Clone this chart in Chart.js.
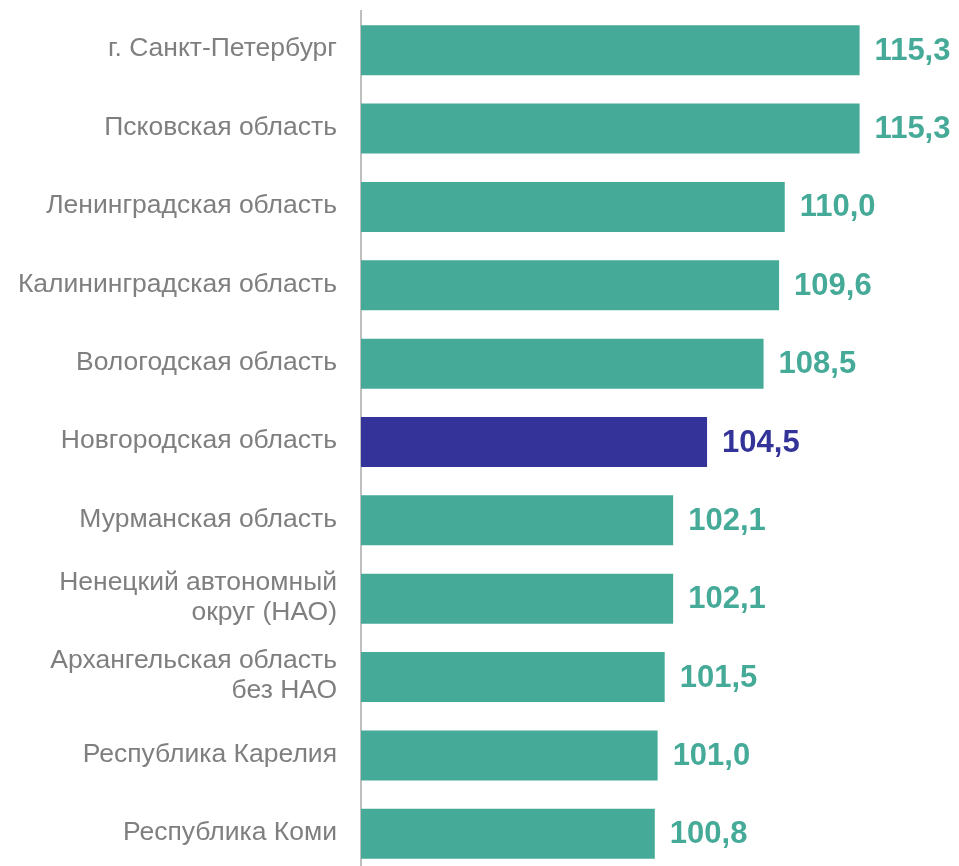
<!DOCTYPE html>
<html>
<head>
<meta charset="utf-8">
<script src="https://cdn.jsdelivr.net/npm/chart.js@4"></script>
<style>
    html, body { margin: 0; padding: 0; background: #fff; overflow: hidden; }
    #wrap { width: 959px; height: 866px; overflow: hidden; }
</style>
</head>
<body>
<div id="wrap"><canvas id="barChart" width="959" height="880"></canvas></div>
<script>
// регионы (подписи по оси)
const regions = [
    'г. Санкт-Петербург',
    'Псковская область',
    'Ленинградская область',
    'Калининградская область',
    'Вологодская область',
    'Новгородская область',
    'Мурманская область',
    ['Ненецкий автономный', 'округ (НАО)'],
    ['Архангельская область', 'без НАО'],
    'Республика Карелия',
    'Республика Коми'
];
const values = [115.3, 115.3, 110.0, 109.6, 108.5, 104.5, 102.1, 102.1, 101.5, 101.0, 100.8];
const highlightRegion = 'Новгородская область';

const teal = '#46AA98';
const navy = '#333399';
const fontFamily = '"Liberation Sans", Arial, sans-serif';

const barColors = regions.map(r => r === highlightRegion ? navy : teal);

// подписи значений справа от столбцов
const valueLabels = {
    id: 'valueLabels',
    afterDatasetsDraw(chart) {
        const ctx = chart.ctx;
        const meta = chart.getDatasetMeta(0);
        ctx.save();
        ctx.font = 'bold 31px ' + fontFamily;
        ctx.textAlign = 'left';
        ctx.textBaseline = 'middle';
        meta.data.forEach((bar, i) => {
            ctx.fillStyle = barColors[i];
            ctx.fillText(values[i].toFixed(1).replace('.', ','), bar.x + 15, bar.y + 1);
        });
        ctx.restore();
    }
};

const ctx = document.getElementById('barChart').getContext('2d');
new Chart(ctx, {
    type: 'bar',
    data: {
        labels: regions,
        datasets: [{
            data: values,
            backgroundColor: barColors,
            borderWidth: 0,
            categoryPercentage: 1,
            barPercentage: 0.638
        }]
    },
    options: {
        indexAxis: 'y',
        responsive: false,
        animation: false,
        layout: { padding: { top: 11, right: 33, bottom: 7, left: 0 } },
        plugins: { legend: { display: false }, tooltip: { enabled: false } },
        scales: {
            x: {
                display: false,
                min: 80,
                max: 120
            },
            y: {
                grid: { display: false, drawTicks: false },
                border: { display: true, color: '#BFBFBF', width: 2 },
                ticks: {
                    color: '#7F7F7F',
                    padding: 24,
                    labelOffset: -1,
                    font: { family: fontFamily, size: 26.5, lineHeight: 1.13 }
                },
                afterFit(scale) {
                    // фиксированная ширина оси, без лишних отступов сверху/снизу
                    scale.width = 361;
                    scale.paddingTop = 0;
                    scale.paddingBottom = 0;
                }
            }
        }
    },
    plugins: [valueLabels]
});
</script>
</body>
</html>
